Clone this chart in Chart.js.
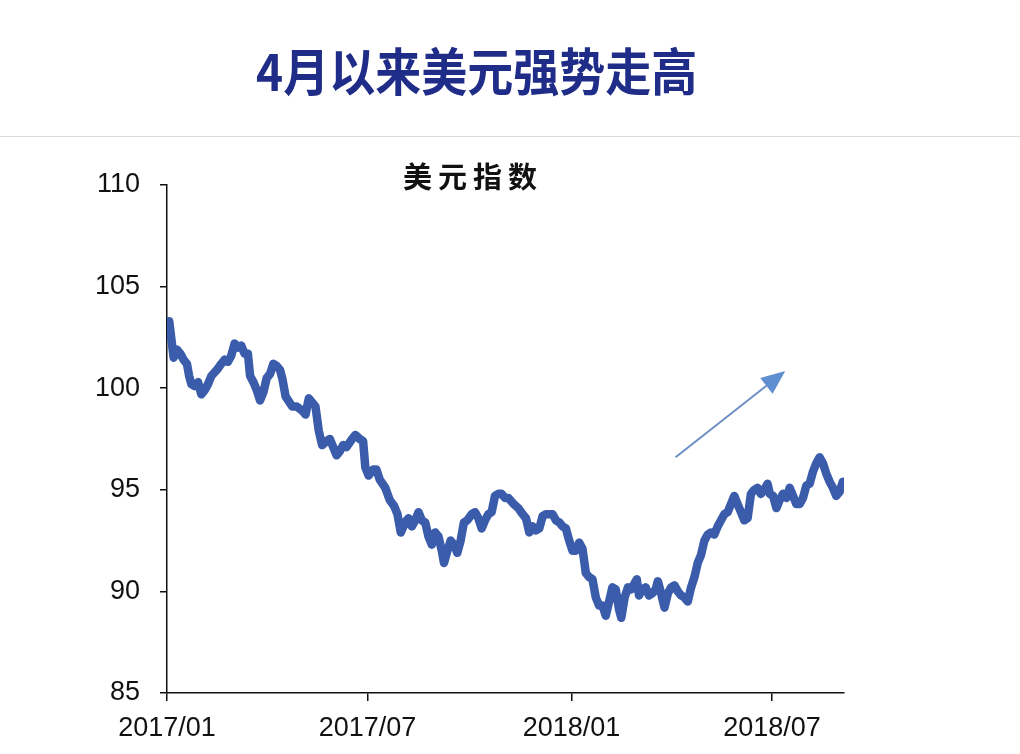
<!DOCTYPE html>
<html lang="zh">
<head>
    <meta charset="UTF-8">
    <title>美元指数</title>
    <script src="https://cdn.jsdelivr.net/npm/chart.js@4/dist/chart.umd.min.js"></script>
    <style>
        * {
            margin: 0;
            padding: 0;
            box-sizing: border-box;
        }

        body {
            width: 1020px;
            height: 754px;
            overflow: hidden;
            background: #fff;
            position: relative;
        }

        .headline {
            position: absolute;
            left: 256px;
            top: 44px;
            font-family: 'Noto Sans CJK SC', sans-serif;
            font-weight: 700;
            font-size: 46px;
            line-height: 1;
            color: #1f2c88;
            white-space: nowrap;
            transform: scale(1.0, 1.1);
            transform-origin: left top;
        }

        .divider {
            position: absolute;
            left: 0;
            top: 136px;
            width: 1020px;
            height: 1px;
            background: #dcdcdc;
        }

        .chart-title {
            position: absolute;
            left: 403px;
            top: 161px;
            font-family: 'Noto Sans CJK SC', sans-serif;
            font-weight: 700;
            font-size: 29px;
            line-height: 1;
            letter-spacing: 6px;
            color: #111;
            white-space: nowrap;
            z-index: 2;
        }

        .chart-box {
            position: absolute;
            left: 0;
            top: 0;
            width: 1020px;
            height: 754px;
        }
    </style>
</head>
<body>
    <div class="headline">4月以来美元强势走高</div>
    <div class="divider"></div>
    <div class="chart-title">美元指数</div>
    <div class="chart-box">
        <canvas id="dxyChart"></canvas>
    </div>

    <script>
        // 美元指数
        const dates = [
            '2017-01-03', '2017-01-07', '2017-01-10', '2017-01-13', '2017-01-16', '2017-01-19', '2017-01-21', '2017-01-23', '2017-01-26', '2017-01-29',
            '2017-02-01', '2017-02-04', '2017-02-07', '2017-02-10', '2017-02-15', '2017-02-19', '2017-02-22', '2017-02-25', '2017-02-28',
            '2017-03-03', '2017-03-06', '2017-03-09', '2017-03-12', '2017-03-15', '2017-03-17', '2017-03-20', '2017-03-23', '2017-03-26', '2017-03-29',
            '2017-04-01', '2017-04-04', '2017-04-07', '2017-04-10', '2017-04-13', '2017-04-15', '2017-04-18', '2017-04-24', '2017-04-28',
            '2017-05-03', '2017-05-06', '2017-05-09', '2017-05-12', '2017-05-15', '2017-05-18', '2017-05-21', '2017-05-25', '2017-05-28', '2017-05-31',
            '2017-06-03', '2017-06-06', '2017-06-09', '2017-06-12', '2017-06-17', '2017-06-20', '2017-06-24', '2017-06-27', '2017-06-29',
            '2017-07-02', '2017-07-06', '2017-07-09', '2017-07-12', '2017-07-17', '2017-07-21', '2017-07-25', '2017-07-28', '2017-07-31',
            '2017-08-04', '2017-08-07', '2017-08-10', '2017-08-13', '2017-08-16', '2017-08-19', '2017-08-22', '2017-08-25', '2017-08-28', '2017-08-31',
            '2017-09-03', '2017-09-06', '2017-09-08', '2017-09-11', '2017-09-14', '2017-09-17', '2017-09-20', '2017-09-23', '2017-09-26', '2017-09-29',
            '2017-10-03', '2017-10-06', '2017-10-09', '2017-10-12', '2017-10-15', '2017-10-18', '2017-10-21', '2017-10-24', '2017-10-27', '2017-10-30',
            '2017-11-02', '2017-11-05', '2017-11-10', '2017-11-14', '2017-11-18', '2017-11-21', '2017-11-24', '2017-11-27', '2017-11-30',
            '2017-12-03', '2017-12-06', '2017-12-09', '2017-12-12', '2017-12-15', '2017-12-18', '2017-12-21', '2017-12-24', '2017-12-27', '2017-12-30',
            '2018-01-02', '2018-01-05', '2018-01-08', '2018-01-11', '2018-01-14', '2018-01-17', '2018-01-20', '2018-01-23', '2018-01-26', '2018-01-29',
            '2018-02-01', '2018-02-04', '2018-02-07', '2018-02-10', '2018-02-13', '2018-02-15', '2018-02-18', '2018-02-21', '2018-02-24', '2018-02-27',
            '2018-03-01', '2018-03-03', '2018-03-06', '2018-03-09', '2018-03-12', '2018-03-15', '2018-03-18', '2018-03-20', '2018-03-23', '2018-03-26', '2018-03-29',
            '2018-04-01', '2018-04-04', '2018-04-07', '2018-04-10', '2018-04-13', '2018-04-16', '2018-04-19', '2018-04-22', '2018-04-25', '2018-04-28',
            '2018-05-01', '2018-05-04', '2018-05-07', '2018-05-10', '2018-05-13', '2018-05-16', '2018-05-19', '2018-05-22', '2018-05-25', '2018-05-28', '2018-05-31',
            '2018-06-03', '2018-06-06', '2018-06-09', '2018-06-12', '2018-06-15', '2018-06-18', '2018-06-21', '2018-06-24', '2018-06-27', '2018-06-29',
            '2018-07-02', '2018-07-05', '2018-07-08', '2018-07-11', '2018-07-14', '2018-07-17', '2018-07-20', '2018-07-23', '2018-07-26', '2018-07-29',
            '2018-08-01', '2018-08-04', '2018-08-07', '2018-08-10', '2018-08-13', '2018-08-16', '2018-08-19', '2018-08-22', '2018-08-25', '2018-08-28', '2018-08-31',
            '2018-09-03', '2018-09-05'
        ];

        const dxyValues = [
            103.3, 101.5, 101.9, 101.7, 101.4, 101.2, 100.6, 100.2, 100.1, 100.3,
            99.7, 99.9, 100.2, 100.6, 100.9, 101.2, 101.4, 101.3, 101.6,
            102.2, 102.0, 102.1, 101.7, 101.7, 100.6, 100.3, 99.9, 99.4, 99.8,
            100.5, 100.7, 101.2, 101.1, 100.9, 100.5, 99.6, 99.1, 99.1,
            98.9, 98.7, 99.5, 99.3, 99.1, 97.9, 97.2, 97.4, 97.5, 97.1,
            96.7, 96.9, 97.2, 97.1, 97.5, 97.7, 97.5, 97.4, 96.1,
            95.7, 96.0, 96.0, 95.5, 95.1, 94.5, 94.2, 93.8, 92.9,
            93.4, 93.6, 93.2, 93.5, 93.9, 93.5, 93.4, 92.7, 92.3, 92.9,
            92.7, 92.0, 91.4, 92.0, 92.5, 92.3, 91.9, 92.5, 93.4, 93.5,
            93.8, 93.9, 93.6, 93.1, 93.5, 93.8, 93.9, 94.7, 94.8, 94.8,
            94.6, 94.6, 94.3, 94.1, 93.8, 93.6, 92.9, 93.2, 93.0,
            93.1, 93.7, 93.8, 93.8, 93.8, 93.5, 93.4, 93.2, 93.1, 92.5,
            92.0, 92.0, 92.4, 92.1, 90.9, 90.7, 90.6, 89.7, 89.3, 89.3,
            88.8, 89.5, 90.2, 90.1, 89.1, 88.7, 89.7, 90.2, 90.1, 90.4,
            90.6, 89.8, 90.1, 90.2, 89.8, 89.9, 90.1, 90.5, 89.9, 89.2, 89.9,
            90.2, 90.3, 90.0, 89.8, 89.7, 89.5, 90.2, 90.7, 91.4, 91.8,
            92.5, 92.8, 92.9, 92.8, 93.2, 93.5, 93.8, 93.9, 94.3, 94.7, 94.3,
            93.9, 93.5, 93.6, 94.8, 95.0, 95.1, 94.8, 95.0, 95.3, 94.8,
            94.7, 94.1, 94.5, 94.8, 94.6, 95.1, 94.7, 94.3, 94.3, 94.6,
            95.2, 95.3, 95.9, 96.3, 96.6, 96.3, 95.8, 95.4, 95.1, 94.7, 94.9,
            95.4, 95.2
        ];

        const tickDates = ['2017-01-01', '2017-07-01', '2018-01-01', '2018-07-01'];
        const tickLabels = ['2017/01', '2017/07', '2018/01', '2018/07'];
        const yTicks = [85, 90, 95, 100, 105, 110];
        const axisEndDate = '2018-09-04';

        // 箭头 (数据坐标)
        const arrowFrom = { date: '2018-04-05', value: 96.6 };
        const arrowTo = { date: '2018-07-13', value: 100.85 };

        const ORIGIN = Date.UTC(2017, 0, 1);
        function dayOf(str) {
            const p = str.split('-').map(Number);
            return (Date.UTC(p[0], p[1] - 1, p[2]) - ORIGIN) / 86400000;
        }

        const tickDays = tickDates.map(dayOf);
        const points = dates.map((d, i) => ({ x: dayOf(d), y: dxyValues[i] }));

        const arrowPlugin = {
            id: 'trendArrow',
            afterDatasetsDraw(chart) {
                const { ctx, scales } = chart;
                const x1 = scales.x.getPixelForValue(dayOf(arrowFrom.date));
                const y1 = scales.y.getPixelForValue(arrowFrom.value);
                const x2 = scales.x.getPixelForValue(dayOf(arrowTo.date));
                const y2 = scales.y.getPixelForValue(arrowTo.value);
                const ang = Math.atan2(y2 - y1, x2 - x1);
                const headLen = 24, headHalf = 10;
                const bx = x2 - headLen * Math.cos(ang);
                const by = y2 - headLen * Math.sin(ang);

                ctx.save();
                ctx.strokeStyle = '#6d8fc6';
                ctx.lineWidth = 2;
                ctx.beginPath();
                ctx.moveTo(x1, y1);
                ctx.lineTo(bx, by);
                ctx.stroke();

                ctx.fillStyle = '#5f8fd0';
                ctx.beginPath();
                ctx.moveTo(x2, y2);
                ctx.lineTo(bx + headHalf * Math.sin(ang), by - headHalf * Math.cos(ang));
                ctx.lineTo(bx - headHalf * Math.sin(ang), by + headHalf * Math.cos(ang));
                ctx.closePath();
                ctx.fill();
                ctx.restore();
            }
        };

        const tickFont = { family: "'Liberation Sans', Arial, sans-serif", size: 27 };

        new Chart(document.getElementById('dxyChart'), {
            type: 'line',
            data: {
                datasets: [{
                    label: '美元指数',
                    data: points,
                    borderColor: '#3a5cab',
                    borderWidth: 8.5,
                    pointRadius: 0,
                    tension: 0,
                    borderJoinStyle: 'round',
                    borderCapStyle: 'round',
                    fill: false
                }]
            },
            options: {
                responsive: true,
                maintainAspectRatio: false,
                animation: false,
                layout: {
                    padding: { top: 185, right: 176, left: 0, bottom: 0 }
                },
                plugins: {
                    legend: { display: false },
                    tooltip: { enabled: false }
                },
                scales: {
                    x: {
                        type: 'linear',
                        min: 0,
                        max: dayOf(axisEndDate),
                        afterFit(scale) { scale.height = 61; },
                        afterBuildTicks(scale) {
                            scale.ticks = tickDays.map(v => ({ value: v }));
                        },
                        ticks: {
                            autoSkip: false,
                            maxRotation: 0,
                            padding: 11,
                            color: '#111',
                            font: tickFont,
                            callback: (value) => tickLabels[tickDays.indexOf(value)]
                        },
                        grid: {
                            drawOnChartArea: false,
                            tickLength: 8,
                            color: '#111',
                            lineWidth: 1.5
                        },
                        border: { color: '#111', width: 1.5 }
                    },
                    y: {
                        min: 85,
                        max: 110,
                        afterFit(scale) { scale.width = 167; },
                        afterBuildTicks(scale) {
                            scale.ticks = yTicks.map(v => ({ value: v }));
                        },
                        ticks: {
                            padding: 20,
                            color: '#111',
                            font: tickFont
                        },
                        grid: {
                            drawOnChartArea: false,
                            tickLength: 7,
                            color: '#111',
                            lineWidth: 1.5
                        },
                        border: { color: '#111', width: 1.5 }
                    }
                }
            },
            plugins: [arrowPlugin]
        });
    </script>
</body>
</html>
